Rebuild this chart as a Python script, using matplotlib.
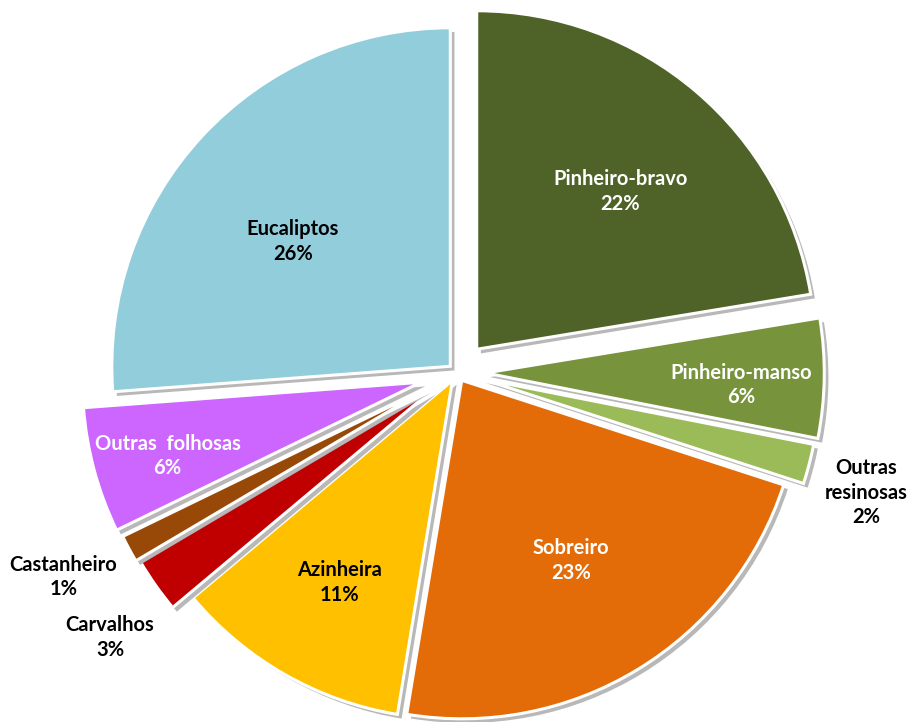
import numpy as np
import matplotlib
matplotlib.use("Agg")
import matplotlib.pyplot as plt
import matplotlib.patheffects as pe

# =========================
# DATA
# =========================
species = ["Pinheiro-bravo", "Pinheiro-manso", "Outras\nresinosas", "Sobreiro",
           "Azinheira", "Carvalhos", "Castanheiro", "Outras  folhosas", "Eucaliptos"]
shares = [22.4, 5.7, 1.9, 22.6, 11.3, 2.6, 1.3, 6.0, 26.2]

colors = ["#4F6228", "#77933C", "#9BBB59", "#E36C09", "#FFC000",
          "#C00000", "#984807", "#CC66FF", "#92CDDC"]
text_colors = ["white", "white", "black", "white", "black",
               "black", "black", "white", "black"]
explode = [0.09, 0.085, 0.075, 0.027, 0.027, 0.09, 0.1, 0.11, 0.027]
# label placement: distance from the centre (pie radii) and angle nudge (deg, clockwise)
label_r = [0.72, 0.84, 1.26, 0.65, 0.71, 1.29, 1.31, 0.89, 0.62]
label_turn = [1.8, 1.6, 1.8, 0.0, -0.5, -2.1, 0.8, -1.0, -4.3]

plt.rcParams["font.family"] = ["Lato", "DejaVu Sans"]

# =========================
# FIGURE
# =========================
W, H = 915, 722
CX, CY, R = 457, 372.5, 338.5

fig = plt.figure(figsize=(W / 100, H / 100), dpi=100)
ax = fig.add_axes([0, 0, 1, 1])

wedges, _ = ax.pie(shares, colors=colors, explode=explode, startangle=90,
                   counterclock=False, radius=1.0,
                   wedgeprops=dict(edgecolor="white", linewidth=2.2))

shadow = [pe.SimplePatchShadow(offset=(3, -3), shadow_rgbFace="#7f7f7f", alpha=0.55),
          pe.Normal()]
for w in wedges:
    w.set_path_effects(shadow)

# labels: name on top, rounded share below
total = sum(shares)
cum = 0.0
for name, v, tc, r, dt in zip(species, shares, text_colors, label_r, label_turn):
    mid = np.deg2rad(90 - ((cum + v / 2) / total * 360 + dt))
    cum += v
    x, y = r * np.cos(mid), r * np.sin(mid)
    ax.text(x, y, f"{name}\n{v:.0f}%", ha="center", va="center",
            color=tc, fontsize=14.5, fontweight="bold", linespacing=1.28)

ax.set_xlim((0 - CX) / R, (W - CX) / R)
ax.set_ylim((CY - H) / R, CY / R)
ax.set_aspect("auto")
ax.axis("off")

fig.savefig("out.png", dpi=100, facecolor="white")
